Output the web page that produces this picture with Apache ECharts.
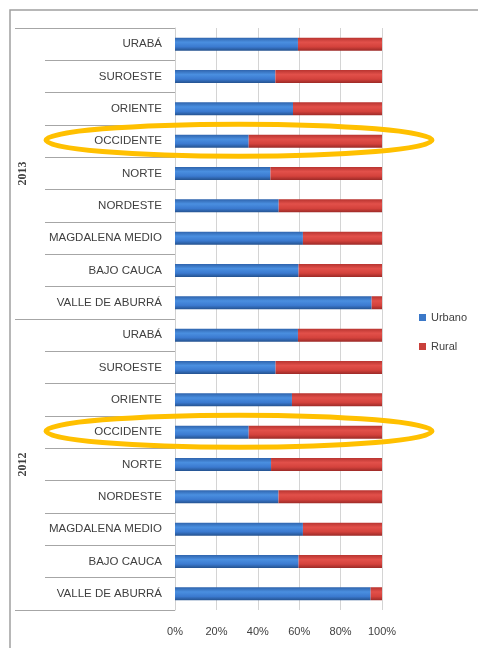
<!DOCTYPE html>
<html><head><meta charset="utf-8">
<script src="https://cdn.jsdelivr.net/npm/echarts@6/dist/echarts.min.js"></script>
<style>html,body{margin:0;padding:0;background:#fff}#c{width:478px;height:648px}</style>
</head><body><div id="c"></div>
<script>
const regions = ['URABÁ','SUROESTE','ORIENTE','OCCIDENTE','NORTE','NORDESTE','MAGDALENA MEDIO','BAJO CAUCA','VALLE DE ABURRÁ'];
const years = ['2013','2012'];
const urbano2013 = [59.4, 48.5, 57.0, 35.6, 46.1, 50.1, 61.8, 59.7, 95.0];
const rural2013  = [40.6, 51.5, 43.0, 64.4, 53.9, 49.9, 38.2, 40.3, 5.0];
const urbano2012 = [59.4, 48.6, 56.5, 35.6, 46.4, 50.0, 61.8, 59.7, 94.5];
const rural2012  = [40.6, 51.4, 43.5, 64.4, 53.6, 50.0, 38.2, 40.3, 5.5];
const xTicks = ['0%','20%','40%','60%','80%','100%'];
const highlighted = 'OCCIDENTE';

const cats = regions.concat(regions);
const urb = urbano2013.concat(urbano2012);
const rur = rural2013.concat(rural2012);
const FONT = "'Liberation Sans',sans-serif";

const chart = echarts.init(document.getElementById('c'));
const blueGrad = new echarts.graphic.LinearGradient(0,0,0,1,[{offset:0,color:'#2f64ad'},{offset:0.35,color:'#4a8fe0'},{offset:0.7,color:'#3b7ad0'},{offset:1,color:'#24528f'}]);
const redGrad = new echarts.graphic.LinearGradient(0,0,0,1,[{offset:0,color:'#b83430'},{offset:0.35,color:'#e2504a'},{offset:0.7,color:'#d4423c'},{offset:1,color:'#9c2a27'}]);
chart.setOption({
  animation:false,
  textStyle:{fontFamily:FONT},
  grid:{left:175,right:96,top:28,bottom:38},
  legend:{orient:'vertical',left:414,top:307,itemWidth:7,itemHeight:7,itemGap:18,icon:'rect',
    textStyle:{fontSize:11,color:'#404040',fontFamily:FONT},
    data:[{name:'Urbano',itemStyle:{color:'#3b78c8'}},{name:'Rural',itemStyle:{color:'#c9403b'}}]},
  xAxis:{type:'value',min:0,max:100,interval:20,
    axisLabel:{formatter:v=>xTicks[v/20],fontSize:11,color:'#404040',margin:16,fontFamily:FONT},
    axisLine:{show:false},axisTick:{show:false},
    splitLine:{lineStyle:{color:'#d4d4d4'}}},
  yAxis:[
    {type:'category',inverse:true,data:cats,
     axisLine:{show:true,lineStyle:{color:'#d0d0d0'}},
     axisTick:{show:true,length:130,lineStyle:{color:'#a6a6a6'}},
     axisLabel:{fontSize:11.5,color:'#404040',margin:13,fontFamily:FONT}},
    {type:'category',inverse:true,data:years,position:'left',
     axisLine:{show:false},
     axisTick:{show:true,length:160,lineStyle:{color:'#a6a6a6'}},
     axisLabel:{rotate:90,fontSize:12,fontWeight:'bold',color:'#404040',margin:146,fontFamily:"'Liberation Serif',serif"}}
  ],
  series:[
    {name:'Urbano',type:'bar',stack:'s',yAxisIndex:0,barWidth:13,data:urb,itemStyle:{color:blueGrad}},
    {name:'Rural',type:'bar',stack:'s',yAxisIndex:0,barWidth:13,data:rur,itemStyle:{color:redGrad}}
  ]
});
const idxs = [regions.indexOf(highlighted), regions.length + regions.indexOf(highlighted)];
const els = [{type:'rect',shape:{x:10,y:10,width:480,height:650},style:{fill:null,stroke:'#a0a0a0',lineWidth:1.5},z:-1}];
idxs.forEach(i=>{
  const y = chart.convertToPixel({yAxisIndex:0}, i);
  els.push({type:'ellipse',shape:{cx:239,cy:y-1,rx:193,ry:16},style:{fill:null,stroke:'#FFC000',lineWidth:5},z:100});
});
chart.setOption({graphic:els});
</script></body></html>
